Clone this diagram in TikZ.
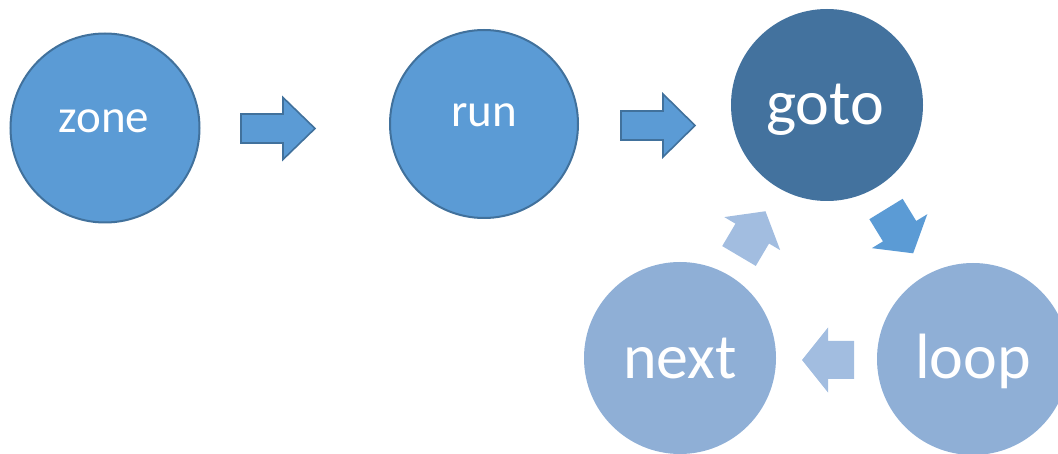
\documentclass[tikz,border=0pt]{standalone}
\usepackage{fontspec}
\setmainfont{Carlito}
\definecolor{midblue}{HTML}{5B9BD5}
\definecolor{edgeblue}{HTML}{41719C}
\definecolor{darkblue}{HTML}{43729E}
\definecolor{paleblue}{HTML}{8FAFD6}
\definecolor{palerblue}{HTML}{A2BDE0}
\newcommand\blockarrow[7]{%
  \path[#1, shift={#2}, rotate=#3]
    (0,-#6) -- ({#4-#5},-#6) -- ({#4-#5},-#7) -- (#4,0) -- ({#4-#5},#7)
    -- ({#4-#5},#6) -- (0,#6) -- cycle;}
\tikzset{
  bubble/.style={circle, inner sep=0pt, minimum size=#1},
  outlined/.style={fill=midblue, draw=edgeblue, line width=2pt},
  smalltext/.style={anchor=base, text=white, inner sep=0pt, font=\fontsize{47}{56}\selectfont},
  bigtext/.style={anchor=base, text=white, inner sep=0pt, font=\fontsize{64}{76}\selectfont},
  flatarrow/.style={fill=midblue, draw=edgeblue, line width=1.6pt, line join=miter},
}
\begin{document}
\begin{tikzpicture}[x=1pt,y=-1pt]
\useasboundingbox (0,0) rectangle (1058,454);
\clip (0,0) rectangle (1058,454);
% circles
\node[bubble=189pt, outlined] (zone) at (105,128) {};
\node[bubble=188pt, outlined] (run) at (484,124) {};
\node[bubble=192pt, fill=darkblue] (goto) at (827,105) {};
\node[bubble=192pt, fill=paleblue] (loop) at (973,359) {};
\node[bubble=192pt, fill=paleblue] (next) at (680,358) {};
% labels
\node[smalltext] (zonet) at (104,133) {zone};
\node[smalltext] (runt) at (484,127) {run};
\node[bigtext] (gotot) at (825,125) {goto};
\node[bigtext] (loopt) at (973,378) {loop};
\node[bigtext] (nextt) at (680,378) {next};
% arrows
\blockarrow{flatarrow}{(241,128.5)}{0}{74}{32}{14.5}{31}
\blockarrow{flatarrow}{(621,125.5)}{0}{74}{32}{14.5}{31.5}
\blockarrow{fill=midblue}{(886,209)}{-58.5}{52}{26}{19.5}{32.5}
\blockarrow{fill=palerblue}{(854,360)}{180}{52}{26}{19}{32.5}
\blockarrow{fill=palerblue}{(739,256)}{59.4}{52}{26}{19.5}{32.5}
\end{tikzpicture}
\end{document}
